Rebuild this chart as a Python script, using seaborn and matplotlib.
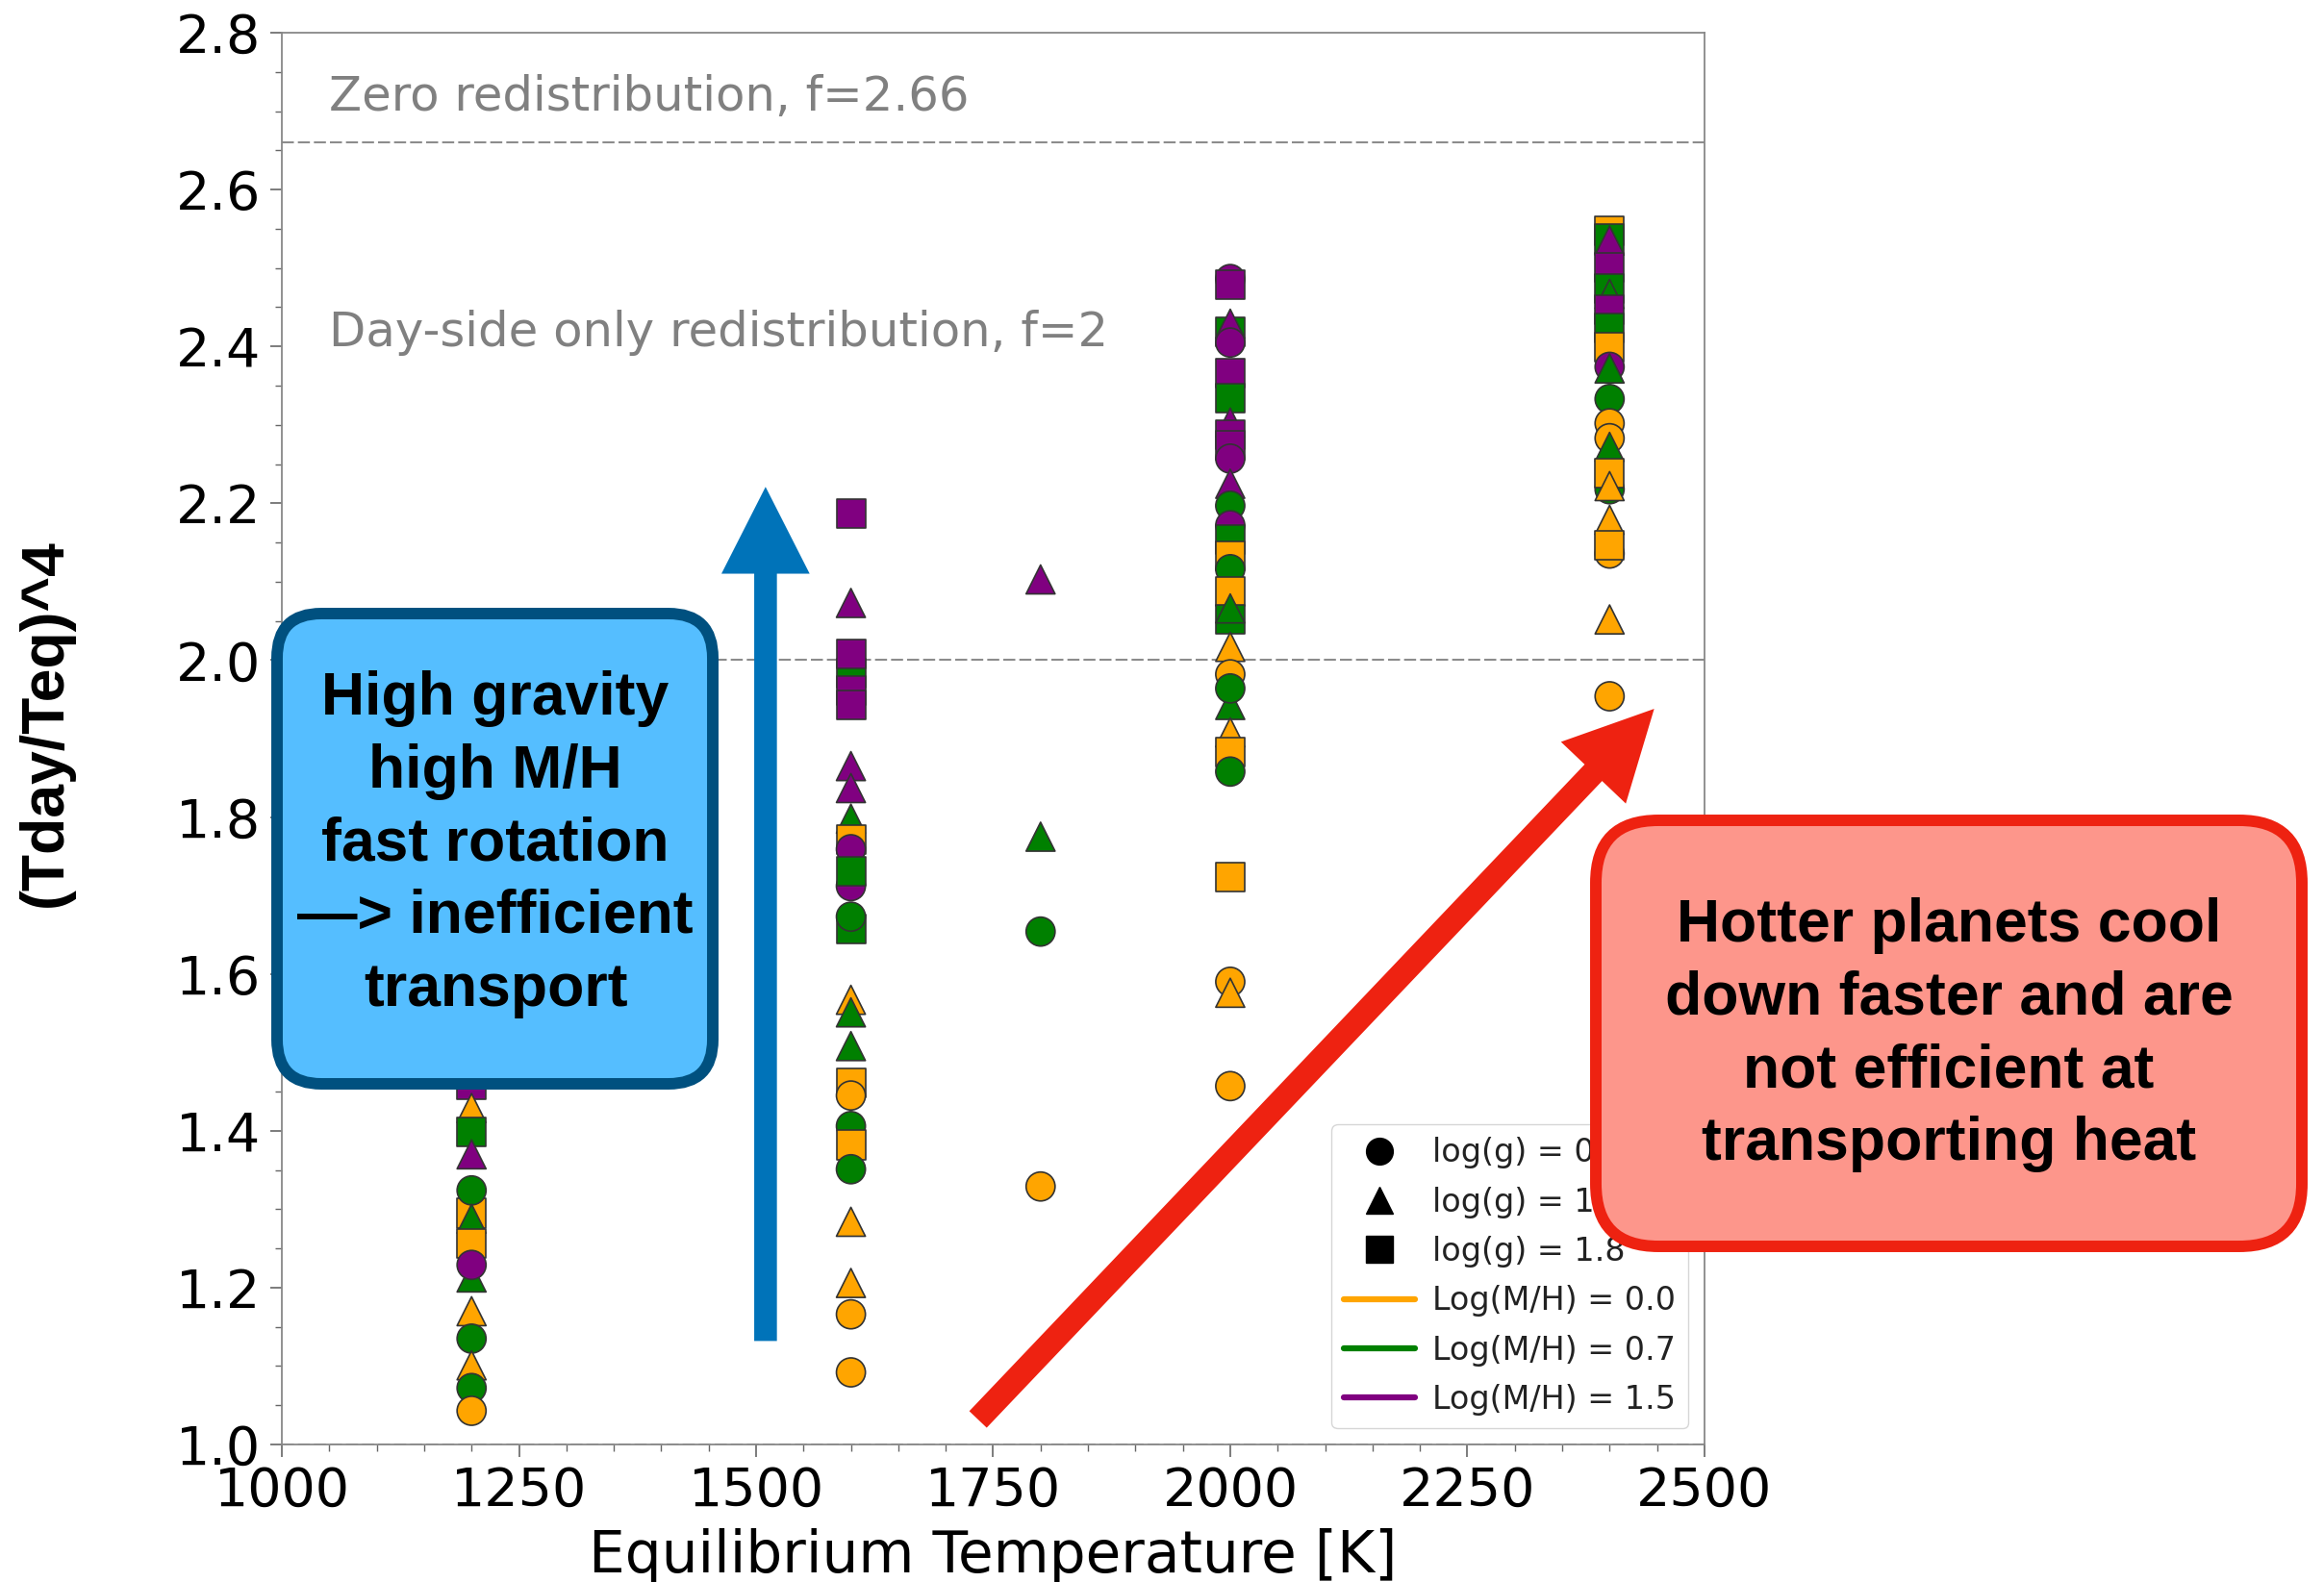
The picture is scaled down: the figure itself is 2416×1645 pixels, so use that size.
import numpy as np
import pandas as pd
import matplotlib
matplotlib.use("Agg")
import matplotlib.pyplot as plt
import seaborn as sns
from matplotlib.lines import Line2D
from matplotlib.patches import FancyBboxPatch
from matplotlib.transforms import IdentityTransform

# values, one list per column (back-most points first)
teq_1200 = [1.459, 1.295, 1.429, 1.399, 1.370, 1.324, 1.288, 1.256, 1.213, 1.229, 1.170, 1.135, 1.101, 1.072, 1.043]
logg_1200 = [1.8, 1.8, 1, 1.8, 1, 0, 1, 1.8, 1, 0, 1, 0, 1, 0, 0]
mh_1200 = [1.5, 0.0, 0.0, 0.7, 1.5, 0.7, 0.7, 0.0, 0.7, 1.5, 0.0, 0.7, 0.0, 0.7, 0.0]

teq_1600 = [2.187, 2.073, 1.983, 2.008, 1.961, 1.943, 1.865, 1.837, 1.712, 1.798, 1.771, 1.759, 1.731,
            1.657, 1.673, 1.567, 1.551, 1.508, 1.461, 1.445, 1.406, 1.382, 1.351, 1.284, 1.206, 1.166, 1.092]
logg_1600 = [1.8, 1, 1.8, 1.8, 1.8, 1.8, 1, 1, 0, 1, 1.8, 0, 1.8,
             1.8, 0, 1, 1, 1, 1.8, 0, 0, 1.8, 0, 1, 1, 0, 0]
mh_1600 = [1.5, 1.5, 0.7, 1.5, 1.5, 1.5, 1.5, 1.5, 1.5, 0.7, 0.0, 1.5, 0.7,
           0.7, 0.7, 0.0, 0.7, 0.7, 0.0, 0.0, 0.7, 0.0, 0.7, 0.0, 0.0, 0.0, 0.0]

teq_1800 = [2.103, 1.775, 1.654, 1.329]
logg_1800 = [1, 1, 0, 0]
mh_1800 = [1.5, 0.7, 0.7, 0.0]

teq_2000 = [2.486, 2.479, 2.419, 2.429, 2.405, 2.366, 2.334, 2.303, 2.288, 2.274, 2.257, 2.225, 2.197,
            2.172, 2.154, 2.133, 2.116, 2.088, 2.052, 2.066, 2.017, 1.982, 1.943, 1.964, 1.908, 1.883,
            1.858, 1.724, 1.590, 1.576, 1.457]
logg_2000 = [0, 1.8, 1.8, 1, 0, 1.8, 1.8, 1, 1.8, 1.8, 0, 1, 0,
             0, 1.8, 1.8, 0, 1.8, 1.8, 1, 1, 0, 1, 0, 1, 1.8,
             0, 1.8, 0, 1, 0]
mh_2000 = [1.5, 1.5, 0.7, 1.5, 1.5, 1.5, 0.7, 1.5, 1.5, 1.5, 1.5, 1.5, 0.7,
           1.5, 0.7, 0.0, 0.7, 0.0, 0.7, 0.7, 0.0, 0.0, 0.7, 0.7, 0.0, 0.0,
           0.7, 0.0, 0.0, 0.0, 0.0]

teq_2400 = [2.548, 2.537, 2.535, 2.501, 2.474, 2.467, 2.447, 2.424, 2.399, 2.374, 2.372, 2.333, 2.302,
            2.283, 2.272, 2.218, 2.239, 2.222, 2.179, 2.136, 2.147, 2.052, 1.954]
logg_2400 = [1.8, 1.8, 1, 1.8, 1.8, 1, 1.8, 1.8, 1.8, 0, 1, 0, 0,
             0, 1, 0, 1.8, 1, 1, 0, 1.8, 1, 0]
mh_2400 = [0.0, 0.7, 1.5, 1.5, 0.7, 0.7, 1.5, 0.7, 0.0, 1.5, 0.7, 0.7, 0.0,
           0.0, 0.7, 0.7, 0.0, 0.0, 0.0, 0.0, 0.0, 0.0, 0.0]

columns = [(1200, teq_1200, logg_1200, mh_1200), (1600, teq_1600, logg_1600, mh_1600),
           (1800, teq_1800, logg_1800, mh_1800), (2000, teq_2000, logg_2000, mh_2000),
           (2400, teq_2400, logg_2400, mh_2400)]

rows = []
for t, ratios, gs, mhs in columns:
    for r, g, m in zip(ratios, gs, mhs):
        rows.append({"teq": t, "ratio": r, "logg": g, "mh": m})
df = pd.DataFrame(rows)

sns.set_theme(style="ticks")
plt.rcParams["font.family"] = ["DejaVu Sans"]
plt.rcParams["text.color"] = "black"
plt.rcParams["axes.labelcolor"] = "black"
plt.rcParams["xtick.color"] = "black"
plt.rcParams["ytick.color"] = "black"

fig = plt.figure(figsize=(24.16, 16.45), dpi=100)
ax = fig.add_axes([0.1213, 0.0869, 0.6121, 0.8924])

palette = {0.0: "orange", 0.7: "green", 1.5: "purple"}
markers = {0: "o", 1: "^", 1.8: "s"}
sns.scatterplot(data=df, x="teq", y="ratio", hue="mh", style="logg", palette=palette,
                markers=markers, s=470, edgecolor="#333333", linewidth=1.2, legend=False, ax=ax)

for yv in [2.66, 2.0, 1.0]:
    ax.axhline(yv, color="#8c8c8c", lw=1.5, dashes=(6, 2), zorder=0)
ax.text(1050, 2.718, "Zero redistribution, f=2.66", color="#808080", fontsize=35.8, va="center")
ax.text(1050, 2.418, "Day-side only redistribution, f=2", color="#808080", fontsize=35.8, va="center")

ax.set_xlim(1000, 2500)
ax.set_ylim(1.0, 2.8)
ax.set_xticks(np.arange(1000, 2501, 250))
ax.set_yticks(np.round(np.arange(1.0, 2.81, 0.2), 1))
ax.set_yticklabels([f"{v:.1f}" for v in np.arange(1.0, 2.81, 0.2)])
ax.set_xticks(np.arange(1000, 2501, 50), minor=True)
ax.set_yticks(np.arange(1.0, 2.8, 0.05), minor=True)
ax.tick_params(which="major", length=9, width=1.2, color="#666666", labelcolor="black",
               labelsize=40, pad=7)
ax.tick_params(which="minor", length=5, width=1, color="#666666")
for sp in ax.spines.values():
    sp.set_color("#888888")
    sp.set_linewidth(1.3)
ax.set_xlabel("Equilibrium Temperature [K]", fontsize=43, labelpad=8, color="black")
ax.set_ylabel("")

handles = [Line2D([], [], marker="o", color="black", ls="none", markersize=20),
           Line2D([], [], marker="^", color="black", ls="none", markersize=20),
           Line2D([], [], marker="s", color="black", ls="none", markersize=20),
           Line2D([], [], color="orange", lw=4.5),
           Line2D([], [], color="green", lw=4.5),
           Line2D([], [], color="purple", lw=4.5)]
labels = ["log(g) = 0", "log(g) = 1", "log(g) = 1.8",
          "Log(M/H) = 0.0", "Log(M/H) = 0.7", "Log(M/H) = 1.5"]
leg = ax.legend(handles, labels, loc="lower right", fontsize=24, handlelength=2.2,
                handletextpad=0.55, labelspacing=0.55, borderaxespad=0.5, frameon=True)
for txt in leg.get_texts():
    txt.set_color("#222222")

# annotation arrows
ax.annotate("", xy=(1510, 2.221), xytext=(1510, 1.132), annotation_clip=False,
            arrowprops=dict(arrowstyle="simple,head_length=65,head_width=66,tail_width=17",
                            mutation_scale=1, fc="#0073B9", ec="#0073B9", lw=0,
                            shrinkA=0, shrinkB=0))
ax.annotate("", xy=(2447, 1.938), xytext=(1734, 1.032), annotation_clip=False,
            arrowprops=dict(arrowstyle="simple,head_length=66,head_width=67,tail_width=18",
                            mutation_scale=1, fc="#EE2211", ec="#EE2211", lw=0,
                            shrinkA=0, shrinkB=0))

# annotation boxes (pixel coordinates)
fig.add_artist(FancyBboxPatch((288, 518), 453, 489, boxstyle="round,pad=0,rounding_size=46",
                              transform=IdentityTransform(), fc="#55BEFF", ec="#00507F", lw=8.6, zorder=5))
fig.add_artist(FancyBboxPatch((1659, 349), 734, 443, boxstyle="round,pad=0,rounding_size=65",
                              transform=IdentityTransform(), fc="#FD968B", ec="#EE2211", lw=8.6, zorder=5))

box_font = dict(family="Liberation Sans", fontweight="bold", fontsize=45, ha="center", va="center",
                linespacing=1.36, color="black", zorder=6)
fig.text(0.2132, 0.4663, "High gravity\nhigh M/H\nfast rotation\n\u2014> inefficient\ntransport", **box_font)
fig.text(0.8386, 0.3459, "Hotter planets cool\ndown faster and are\nnot efficient at\ntransporting heat", **box_font)

fig.text(0.0195, 0.543, "(Tday/Teq)^4", rotation=90, family="Liberation Sans", fontweight="bold",
         fontsize=45, ha="center", va="center", color="black")

fig.savefig("out.png", dpi=100)
